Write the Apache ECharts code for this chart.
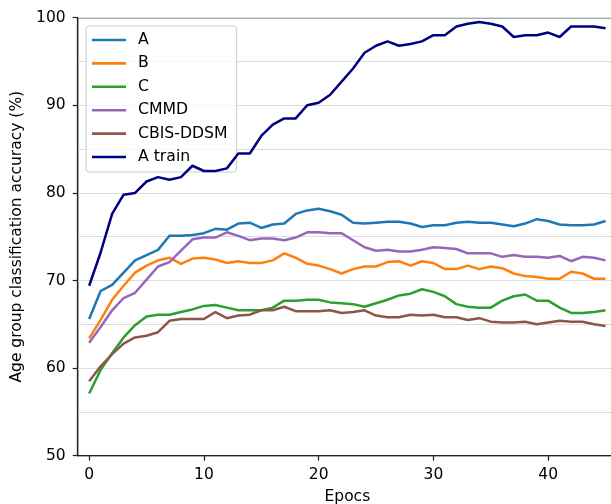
<!DOCTYPE html>
<html>
<head>
<meta charset="utf-8">
<script src="https://cdn.jsdelivr.net/npm/echarts@6/dist/echarts.min.js"></script>
<style>
  html, body { margin: 0; padding: 0; background: #fff; }
  #chart { width: 611px; height: 504px; }
</style>
</head>
<body>
<div id="chart"></div>
<script>
const epochs = Array.from({ length: 46 }, (_, i) => i)
const xTicks = [0, 10, 20, 30, 40]

const serieA = [65.6, 68.8, 69.5, 70.9, 72.3, 72.9, 73.5, 75.1, 75.1, 75.2, 75.4, 75.9, 75.8, 76.5, 76.6, 76.0, 76.4, 76.5, 77.6, 78.0, 78.2, 77.9, 77.5, 76.6, 76.5, 76.6, 76.7, 76.7, 76.5, 76.1, 76.3, 76.3, 76.6, 76.7, 76.6, 76.6, 76.4, 76.2, 76.5, 77.0, 76.8, 76.4, 76.3, 76.3, 76.4, 76.8]
const serieB = [63.4, 65.5, 67.8, 69.4, 70.9, 71.7, 72.3, 72.6, 71.9, 72.5, 72.6, 72.4, 72.0, 72.2, 72.0, 72.0, 72.3, 73.1, 72.6, 71.9, 71.7, 71.3, 70.8, 71.3, 71.6, 71.6, 72.1, 72.2, 71.7, 72.2, 72.0, 71.3, 71.3, 71.7, 71.3, 71.6, 71.4, 70.8, 70.5, 70.4, 70.2, 70.2, 71.0, 70.8, 70.2, 70.2]
const serieC = [57.1, 59.8, 61.7, 63.5, 64.9, 65.9, 66.1, 66.1, 66.4, 66.7, 67.1, 67.2, 66.9, 66.6, 66.6, 66.6, 66.9, 67.7, 67.7, 67.8, 67.8, 67.5, 67.4, 67.3, 67.0, 67.4, 67.8, 68.3, 68.5, 69.0, 68.7, 68.2, 67.3, 67.0, 66.9, 66.9, 67.7, 68.2, 68.4, 67.7, 67.7, 66.9, 66.3, 66.3, 66.4, 66.6]
const serieCMMD = [62.9, 64.7, 66.6, 68.0, 68.6, 70.1, 71.6, 72.1, 73.4, 74.7, 74.9, 74.9, 75.5, 75.1, 74.6, 74.8, 74.8, 74.6, 74.9, 75.5, 75.5, 75.4, 75.4, 74.6, 73.8, 73.4, 73.5, 73.3, 73.3, 73.5, 73.8, 73.7, 73.6, 73.1, 73.1, 73.1, 72.7, 72.9, 72.7, 72.7, 72.6, 72.8, 72.2, 72.7, 72.6, 72.3]
const serieCBIS = [58.5, 60.2, 61.6, 62.8, 63.5, 63.7, 64.1, 65.4, 65.6, 65.6, 65.6, 66.4, 65.7, 66.0, 66.1, 66.6, 66.6, 67.0, 66.5, 66.5, 66.5, 66.6, 66.3, 66.4, 66.6, 66.0, 65.8, 65.8, 66.1, 66.0, 66.1, 65.8, 65.8, 65.5, 65.7, 65.3, 65.2, 65.2, 65.3, 65.0, 65.2, 65.4, 65.3, 65.3, 65.0, 64.8]
const serieATrain = [69.4, 73.2, 77.6, 79.8, 80.0, 81.3, 81.8, 81.5, 81.8, 83.1, 82.5, 82.5, 82.8, 84.5, 84.5, 86.5, 87.8, 88.5, 88.5, 90.0, 90.3, 91.2, 92.7, 94.2, 96.0, 96.8, 97.3, 96.8, 97.0, 97.3, 98.0, 98.0, 99.0, 99.3, 99.5, 99.3, 99.0, 97.8, 98.0, 98.0, 98.3, 97.8, 99.0, 99.0, 99.0, 98.8]

const nomes = ['A', 'B', 'C', 'CMMD', 'CBIS-DDSM', 'A train']
const cores = ['#1f77b4', '#ff7f0e', '#2ca02c', '#9467bd', '#8c564b', '#000080']
const valores = [serieA, serieB, serieC, serieCMMD, serieCBIS, serieATrain]

const fonte = 'DejaVu Sans'
const chart = echarts.init(document.getElementById('chart'))

chart.setOption({
  animation: false,
  grid: {
    left: 77.7,
    top: 17.7,
    right: -6,
    bottom: 48.3,
    outerBoundsMode: 'none',
    containLabel: false,
    show: true,
    borderColor: '#555',
    borderWidth: 1.5,
  },
  legend: {
    orient: 'vertical',
    left: 86,
    top: 26,
    icon: 'rect',
    itemWidth: 34,
    itemHeight: 2.6,
    itemGap: 7.4,
    padding: [6, 9, 7, 6],
    backgroundColor: 'rgba(255,255,255,0.8)',
    borderColor: '#ccc',
    borderWidth: 1,
    borderRadius: 3,
    textStyle: {
      fontFamily: fonte,
      fontSize: 15.7,
      lineHeight: 16,
      color: '#000',
      padding: [0, 0, 0, 7],
    },
    data: nomes,
  },
  xAxis: {
    type: 'value',
    min: -1,
    max: 46,
    name: 'Epocs',
    nameLocation: 'middle',
    nameGap: 33,
    nameTextStyle: { fontFamily: fonte, fontSize: 15.5, color: '#000' },
    axisLine: { onZero: false, lineStyle: { color: '#222', width: 1.2 } },
    axisTick: {
      length: 5,
      customValues: xTicks,
      lineStyle: { color: '#222', width: 1.2 },
    },
    axisLabel: {
      fontFamily: fonte,
      fontSize: 15.5,
      color: '#000',
      margin: 11,
      customValues: xTicks,
    },
    splitLine: { show: false },
  },
  yAxis: {
    type: 'value',
    min: 50,
    max: 100,
    interval: 10,
    name: 'Age group classification accuracy (%)',
    nameLocation: 'middle',
    nameGap: 53,
    nameTextStyle: { fontFamily: fonte, fontSize: 15.5, color: '#000' },
    axisLine: { show: true, onZero: false, lineStyle: { color: '#222', width: 1.2 } },
    axisTick: { show: true, length: 5, lineStyle: { color: '#222', width: 1.2 } },
    axisLabel: { fontFamily: fonte, fontSize: 15.5, color: '#000', margin: 12 },
    splitLine: { show: true, lineStyle: { color: '#ddd', width: 1.2 } },
    minorTick: { show: false, splitNumber: 2 },
    minorSplitLine: { show: true, lineStyle: { color: '#ddd', width: 1.2 } },
  },
  series: nomes.map((nome, k) => ({
    name: nome,
    type: 'line',
    symbol: 'none',
    data: epochs.map((e, i) => [e, valores[k][i]]),
    lineStyle: { color: cores[k], width: 2.5 },
    itemStyle: { color: cores[k] },
    z: 2 + k,
  })),
})
</script>
</body>
</html>
